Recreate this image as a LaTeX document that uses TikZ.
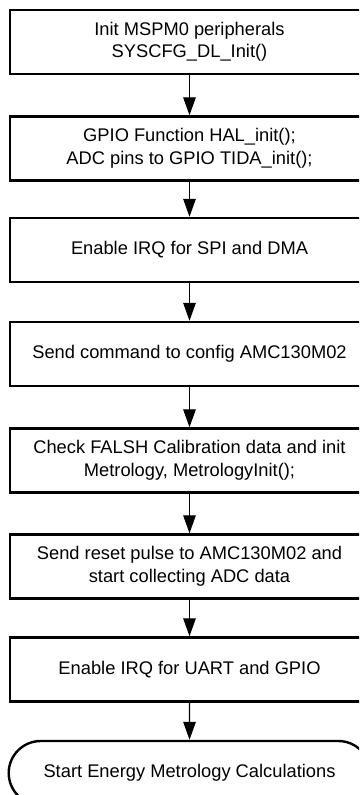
\documentclass[tikz,border=0pt]{standalone}
\usepackage{fontspec}
\setmainfont{Liberation Sans}
\usetikzlibrary{arrows.meta,shapes.misc}
\begin{document}
\begin{tikzpicture}[x=1pt,y=-1pt,
  stepbox/.style={draw=black,line width=2.4pt,minimum width=358.6pt,minimum height=64pt,
    inner sep=0pt,align=center,font=\fontsize{18.3}{22.5}\selectfont},
  termbox/.style={draw=black,line width=2.4pt,rounded rectangle,minimum width=361.6pt,minimum height=64pt,
    inner sep=0pt,align=center,font=\fontsize{18.3}{22.5}\selectfont},
  flow/.style={line width=1.3pt,-{Triangle[width=12.5pt,length=18pt]}}]
\useasboundingbox (0,0) rectangle (359,795);
\clip (0,0) rectangle (359,795);
\node[stepbox] (b1) at (189.5,42) {Init MSPM0 peripherals\\SYSCFG\_DL\_Init()};
\node[stepbox] (b2) at (189.5,148.5) {GPIO Function HAL\_init();\\ADC pins to GPIO TIDA\_init();};
\node[stepbox] (b3) at (189.5,250) {Enable IRQ for SPI and DMA};
\node[stepbox] (b4) at (189.5,354) {Send command to config AMC130M02};
\node[stepbox] (b5) at (189.5,460.5) {Check FALSH Calibration data and init\\Metrology, MetrologyInit();};
\node[stepbox] (b6) at (189.5,566.5) {Send reset pulse to AMC130M02 and\\start collecting ADC data};
\node[stepbox] (b7) at (189.5,669.5) {Enable IRQ for UART and GPIO};
\node[termbox] (t) at (189.5,773) {Start Energy Metrology Calculations};
\draw[flow] (b1) -- (b2);
\draw[flow] (b2) -- (b3);
\draw[flow] (b3) -- (b4);
\draw[flow] (b4) -- (b5);
\draw[flow] (b5) -- (b6);
\draw[flow] (b6) -- (b7);
\draw[flow] (b7) -- (t);
\end{tikzpicture}
\end{document}
